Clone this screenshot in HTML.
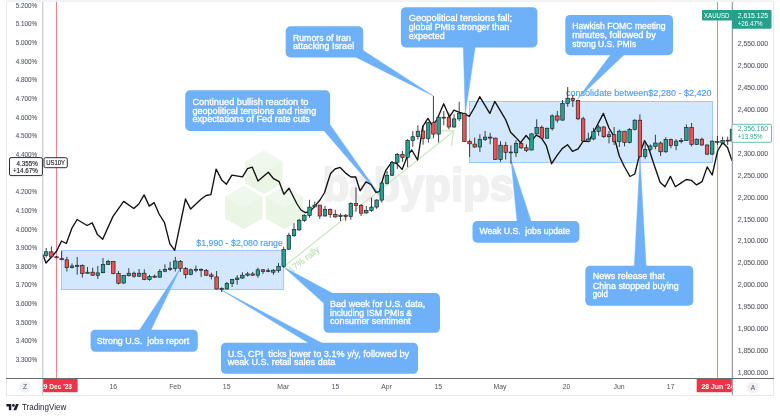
<!DOCTYPE html>
<html lang="en"><head><meta charset="utf-8"><title>XAUUSD vs US10Y - TradingView</title>
<style>html,body{margin:0;padding:0;background:#fff}svg{display:block}text{font-family:"Liberation Sans",Arial,sans-serif}</style></head><body>
<svg width="780" height="418" viewBox="0 0 780 418">
<rect width="780" height="418" fill="#fff"/>
<g fill="none" stroke="#e6e8ed" stroke-width="1">
<path d="M6.5 1H773.5V395.5H6.5Z"/>
</g>
<g opacity="1">
<polygon points="263.8,150.7 282.5,161.5 282.5,183.1 263.8,193.9 245.1,183.1 245.1,161.5" fill="#eaf5e6"/>
<polygon points="263.8,150.7 282.5,161.5 263.8,172.3 245.1,161.5" fill="#eff8ec"/>
<polygon points="243.7,186.0 262.4,196.8 262.4,218.4 243.7,229.2 225.0,218.4 225.0,196.8" fill="#eaf5e6"/>
<polygon points="243.7,186.0 262.4,196.8 243.7,207.6 225.0,196.8" fill="#eff8ec"/>
<polygon points="284.4,186.0 303.1,196.8 303.1,218.4 284.4,229.2 265.7,218.4 265.7,196.8" fill="#eaf5e6"/>
<polygon points="284.4,186.0 303.1,196.8 284.4,207.6 265.7,196.8" fill="#eff8ec"/>
<text x="322.5" y="201" font-size="46.5" font-weight="700" fill="#f0f0f0" stroke="#f0f0f0" stroke-width="2.2" stroke-linejoin="round" textLength="191.5" lengthAdjust="spacingAndGlyphs">babypips</text>
</g>
<rect x="61.5" y="250.5" width="222" height="39" fill="#d3e8fd" stroke="#8cc0f5" stroke-width="0.8"/>
<rect x="469.5" y="101.5" width="243" height="61" fill="#d3e8fd" stroke="#8cc0f5" stroke-width="0.8"/>
<path d="M56.5 2V378M717.5 2V378" stroke="#f0828c" stroke-width="1" fill="none"/>
<g stroke="#cbe9c2" stroke-width="1.3" fill="none" stroke-linecap="round">
<path d="M284 266.6L453.7 131.2"/>
<path d="M442 130.5L453.7 131.2L451.5 145.5"/>
</g>
<text transform="translate(291.6,273.4) rotate(-38.6)" font-size="9.4" fill="#c2e5b8" stroke="#c2e5b8" stroke-width="0.2" textLength="36.5" lengthAdjust="spacingAndGlyphs">17% rally</text>
<text x="196.3" y="245.8" font-size="9.6" fill="#489df5" stroke="#489df5" stroke-width="0.15" textLength="86.5" lengthAdjust="spacingAndGlyphs">$1,990 - $2,080 range</text>
<text x="566" y="96" font-size="9.6" fill="#489df5" stroke="#489df5" stroke-width="0.15" textLength="145.6" lengthAdjust="spacingAndGlyphs">consolidate between$2,280 - $2,420</text>
<g>
<polygon points="330.2,125.0 324.2,131.0 379.8,195.5" fill="#6eb1f8" stroke="#6eb1f8" stroke-width="0.5" stroke-linejoin="round"/>
<rect x="185.2" y="90.3" width="144.9" height="40.7" rx="4.8" fill="#6eb1f8"/>
<text x="192.4" y="104.7" font-size="9.0" fill="#fff" stroke="#fff" stroke-width="0.3" textLength="116.0" lengthAdjust="spacingAndGlyphs">Continued bullish reaction to</text>
<text x="192.4" y="113.6" font-size="9.0" fill="#fff" stroke="#fff" stroke-width="0.3" textLength="123.8" lengthAdjust="spacingAndGlyphs">geopolitical tensions and rising</text>
<text x="192.4" y="122.3" font-size="9.0" fill="#fff" stroke="#fff" stroke-width="0.3" textLength="117.5" lengthAdjust="spacingAndGlyphs">expectations of Fed rate cuts</text>
</g>
<g>
<polygon points="363.2,50.5 356.5,57.5 433.4,96.0" fill="#6eb1f8" stroke="#6eb1f8" stroke-width="0.5" stroke-linejoin="round"/>
<rect x="285.7" y="26.3" width="77.5" height="31.2" rx="4.8" fill="#6eb1f8"/>
<text x="292.9" y="40.5" font-size="9.0" fill="#fff" stroke="#fff" stroke-width="0.3" textLength="58.0" lengthAdjust="spacingAndGlyphs">Rumors of Iran</text>
<text x="292.9" y="49.1" font-size="9.0" fill="#fff" stroke="#fff" stroke-width="0.3" textLength="61.4" lengthAdjust="spacingAndGlyphs">attacking Israel</text>
</g>
<g>
<polygon points="463.3,46.0 475.3,46.0 465.3,113.5" fill="#6eb1f8" stroke="#6eb1f8" stroke-width="0.5" stroke-linejoin="round"/>
<rect x="400.9" y="7.2" width="136.5" height="40.2" rx="4.8" fill="#6eb1f8"/>
<text x="408.7" y="21.2" font-size="9.0" fill="#fff" stroke="#fff" stroke-width="0.3" textLength="103.4" lengthAdjust="spacingAndGlyphs">Geopolitical tensions fall;</text>
<text x="408.7" y="30.4" font-size="9.0" fill="#fff" stroke="#fff" stroke-width="0.3" textLength="100.6" lengthAdjust="spacingAndGlyphs">global PMIs stronger than</text>
<text x="408.7" y="39.0" font-size="9.0" fill="#fff" stroke="#fff" stroke-width="0.3" textLength="36.0" lengthAdjust="spacingAndGlyphs">expected</text>
</g>
<g>
<polygon points="611.3,54.0 624.8,54.0 577.4,99.0" fill="#6eb1f8" stroke="#6eb1f8" stroke-width="0.5" stroke-linejoin="round"/>
<rect x="565.3" y="14.9" width="107.7" height="40.3" rx="4.8" fill="#6eb1f8"/>
<text x="572.2" y="29.0" font-size="9.0" fill="#fff" stroke="#fff" stroke-width="0.3" textLength="93.4" lengthAdjust="spacingAndGlyphs">Hawkish FOMC meeting</text>
<text x="572.2" y="38.1" font-size="9.0" fill="#fff" stroke="#fff" stroke-width="0.3" textLength="83.6" lengthAdjust="spacingAndGlyphs">minutes, followed by</text>
<text x="572.2" y="46.8" font-size="9.0" fill="#fff" stroke="#fff" stroke-width="0.3" textLength="64.0" lengthAdjust="spacingAndGlyphs">strong U.S. PMIs</text>
</g>
<g>
<polygon points="138.9,331.0 150.4,331.0 180.3,268.3" fill="#6eb1f8" stroke="#6eb1f8" stroke-width="0.5" stroke-linejoin="round"/>
<rect x="90.6" y="329.7" width="107.2" height="22.1" rx="4.8" fill="#6eb1f8"/>
<text x="96.7" y="344.0" font-size="9.0" fill="#fff" stroke="#fff" stroke-width="0.3" textLength="92.5" lengthAdjust="spacingAndGlyphs">Strong U.S.&#160; jobs report</text>
</g>
<g>
<polygon points="310.3,344.0 323.6,344.0 221.8,290.3" fill="#6eb1f8" stroke="#6eb1f8" stroke-width="0.5" stroke-linejoin="round"/>
<rect x="220.9" y="342.8" width="197.1" height="31.0" rx="4.8" fill="#6eb1f8"/>
<text x="227.7" y="356.8" font-size="9.0" fill="#fff" stroke="#fff" stroke-width="0.3" textLength="181.4" lengthAdjust="spacingAndGlyphs">U.S. CPI&#160; ticks lower to 3.1% y/y, followed by</text>
<text x="227.7" y="365.1" font-size="9.0" fill="#fff" stroke="#fff" stroke-width="0.3" textLength="107.7" lengthAdjust="spacingAndGlyphs">weak U.S. retail sales data</text>
</g>
<g>
<polygon points="323.6,303.0 332.0,293.0 284.0,267.3" fill="#6eb1f8" stroke="#6eb1f8" stroke-width="0.5" stroke-linejoin="round"/>
<rect x="323.6" y="293.0" width="116.4" height="39.8" rx="4.8" fill="#6eb1f8"/>
<text x="330.1" y="306.7" font-size="9.0" fill="#fff" stroke="#fff" stroke-width="0.3" textLength="95.2" lengthAdjust="spacingAndGlyphs">Bad week for U.S. data,</text>
<text x="330.1" y="315.5" font-size="9.0" fill="#fff" stroke="#fff" stroke-width="0.3" textLength="82.0" lengthAdjust="spacingAndGlyphs">including ISM PMIs &amp;</text>
<text x="330.1" y="324.4" font-size="9.0" fill="#fff" stroke="#fff" stroke-width="0.3" textLength="80.5" lengthAdjust="spacingAndGlyphs">consumer sentiment</text>
</g>
<g>
<polygon points="517.2,222.5 531.5,222.5 511.1,160.2" fill="#6eb1f8" stroke="#6eb1f8" stroke-width="0.5" stroke-linejoin="round"/>
<rect x="472.5" y="221.1" width="106.9" height="21.6" rx="4.8" fill="#6eb1f8"/>
<text x="479.4" y="234.4" font-size="9.0" fill="#fff" stroke="#fff" stroke-width="0.3" textLength="90.7" lengthAdjust="spacingAndGlyphs">Weak U.S.&#160; jobs update</text>
</g>
<g>
<polygon points="634.3,267.0 646.1,267.0 640.0,158.0" fill="#6eb1f8" stroke="#6eb1f8" stroke-width="0.5" stroke-linejoin="round"/>
<rect x="585.3" y="265.7" width="108.0" height="40.0" rx="4.8" fill="#6eb1f8"/>
<text x="592.8" y="279.1" font-size="9.0" fill="#fff" stroke="#fff" stroke-width="0.3" textLength="72.0" lengthAdjust="spacingAndGlyphs">News release that</text>
<text x="592.8" y="288.5" font-size="9.0" fill="#fff" stroke="#fff" stroke-width="0.3" textLength="85.8" lengthAdjust="spacingAndGlyphs">China stopped buying</text>
<text x="592.8" y="297.4" font-size="9.0" fill="#fff" stroke="#fff" stroke-width="0.3" textLength="15.0" lengthAdjust="spacingAndGlyphs">gold</text>
</g>
<polyline points="42.9,254.7 46,263 51.5,257 56.7,251 61.5,241 66.3,243.5 71.8,228.4 77.1,219.5 87.1,225.5 92.2,222.9 97.4,234.4 102.7,239.2 113,216.4 123.7,201.4 133.8,208.5 138.8,204 144.1,194.9 149.3,206.1 154.1,202.6 159.1,214 164.4,222.4 169.9,243.9 174.7,250.4 185.5,199 190.6,209.1 201.3,199 206.1,195.5 210.9,194.7 216.1,169.1 221.7,179.9 226.4,184.2 231.9,175.1 242.5,176.8 247.5,168.7 252.3,167.2 258,181.1 268.3,172.2 273.6,178.7 279.1,181.6 283.9,194.3 289.1,188.3 293,196 297,204 301,210 305.4,212.7 310,211.5 313.8,207.4 320,200 324.6,192.5 327.5,183 330.6,173.4 335,169 340.1,167.4 346.1,173.4 350.9,177 355.7,177 360.1,190.9 365.9,181.9 370.9,184.5 375.9,192.4 379.5,191.7 381.7,183 384,175.2 386,170.1 391.7,162.2 396.8,163.6 402.1,169.4 407.5,155.7 411.8,150 417.6,160 422.7,126.7 427.9,118.4 432.2,125.5 437,119.6 443.7,103.8 449.5,116.9 454,110.2 458.8,112.2 464.6,113.9 469.2,116.4 474.2,108 479.7,96.7 489.8,113.4 494.8,101.4 505.5,119.3 510.6,132.2 515.3,136.9 520.6,142.7 526.1,135.5 531.2,141.6 536.2,135.2 541.2,137.7 546.2,145.3 551.6,163.7 557.1,155.3 562.2,148.6 567.5,144.7 572.5,151.4 578.1,148.9 583.3,141 588.6,141.6 593.3,132.8 603.4,113.4 609,128 614.1,136.7 619.3,156 624.3,166.5 630,176.5 634.8,174 640,153 644.5,140.7 648.3,147 653.5,163 660.1,182.2 665,186.7 670.4,176.4 675.4,186.7 680.8,183.1 686.2,179.5 691.6,180.4 696.6,184.9 702,181.7 707.2,166.9 712.2,175 717.6,151 722.6,142.5 727.5,147.5 732,160.6" fill="none" stroke="#111" stroke-width="1.35" stroke-linejoin="round" stroke-linecap="round"/>
<g stroke="#1d1d22" stroke-width="0.65">
<path d="M46.2 248.0V257.6" stroke-width="0.85"/>
<rect x="44.45" y="251.8" width="3.50" height="3.6" fill="#26a392"/>
<path d="M51.4 246.4V257.6" stroke-width="0.85"/>
<rect x="49.61" y="251.8" width="3.50" height="5.0" fill="#ee5350"/>
<path d="M56.5 256.0V258.2" stroke-width="0.85"/>
<rect x="54.78" y="256.8" width="3.50" height="1.0" fill="#ee5350"/>
<path d="M61.7 251.0V260.0" stroke-width="0.85"/>
<rect x="59.94" y="258.5" width="3.50" height="1.3" fill="#ee5350"/>
<path d="M66.9 256.8V271.5" stroke-width="0.85"/>
<rect x="65.10" y="259.8" width="3.50" height="7.9" fill="#ee5350"/>
<path d="M72.0 263.5V268.5" stroke-width="0.85"/>
<rect x="70.27" y="266.0" width="3.50" height="1.5" fill="#26a392"/>
<path d="M77.2 257.0V274.7" stroke-width="0.85"/>
<rect x="75.43" y="265.3" width="3.50" height="1.0" fill="#26a392"/>
<path d="M82.3 264.3V277.7" stroke-width="0.85"/>
<rect x="80.59" y="265.5" width="3.50" height="8.0" fill="#ee5350"/>
<path d="M87.5 267.0V273.5" stroke-width="0.85"/>
<rect x="85.75" y="272.2" width="3.50" height="1.0" fill="#26a392"/>
<path d="M92.7 267.7V276.0" stroke-width="0.85"/>
<rect x="90.92" y="272.2" width="3.50" height="3.0" fill="#ee5350"/>
<path d="M97.8 266.0V279.0" stroke-width="0.85"/>
<rect x="96.08" y="272.9" width="3.50" height="2.6" fill="#26a392"/>
<path d="M103.0 258.0V273.2" stroke-width="0.85"/>
<rect x="101.24" y="264.5" width="3.50" height="8.2" fill="#26a392"/>
<path d="M108.2 259.8V264.8" stroke-width="0.85"/>
<rect x="106.41" y="261.3" width="3.50" height="3.2" fill="#26a392"/>
<path d="M113.3 261.0V274.4" stroke-width="0.85"/>
<rect x="111.57" y="261.3" width="3.50" height="12.2" fill="#ee5350"/>
<path d="M118.5 271.0V284.4" stroke-width="0.85"/>
<rect x="116.73" y="273.5" width="3.50" height="9.7" fill="#ee5350"/>
<path d="M123.6 274.9V284.0" stroke-width="0.85"/>
<rect x="121.90" y="275.5" width="3.50" height="7.5" fill="#26a392"/>
<path d="M128.8 268.2V276.4" stroke-width="0.85"/>
<rect x="127.06" y="273.2" width="3.50" height="2.5" fill="#26a392"/>
<path d="M134.0 271.5V277.7" stroke-width="0.85"/>
<rect x="132.22" y="273.2" width="3.50" height="3.0" fill="#ee5350"/>
<path d="M139.1 269.0V276.9" stroke-width="0.85"/>
<rect x="137.38" y="273.2" width="3.50" height="3.0" fill="#26a392"/>
<path d="M144.3 269.3V280.2" stroke-width="0.85"/>
<rect x="142.55" y="273.2" width="3.50" height="6.2" fill="#ee5350"/>
<path d="M149.5 274.9V280.7" stroke-width="0.85"/>
<rect x="147.71" y="276.5" width="3.50" height="3.1" fill="#26a392"/>
<path d="M154.6 274.4V277.7" stroke-width="0.85"/>
<rect x="152.87" y="276.2" width="3.50" height="1.0" fill="#ee5350"/>
<path d="M159.8 269.0V277.7" stroke-width="0.85"/>
<rect x="158.04" y="271.3" width="3.50" height="5.9" fill="#26a392"/>
<path d="M164.9 264.3V272.2" stroke-width="0.85"/>
<rect x="163.20" y="269.3" width="3.50" height="1.9" fill="#26a392"/>
<path d="M170.1 261.8V271.0" stroke-width="0.85"/>
<rect x="168.36" y="268.2" width="3.50" height="1.3" fill="#26a392"/>
<path d="M175.3 256.8V271.5" stroke-width="0.85"/>
<rect x="173.53" y="261.0" width="3.50" height="7.5" fill="#26a392"/>
<path d="M180.4 260.0V272.0" stroke-width="0.85"/>
<rect x="178.69" y="261.3" width="3.50" height="7.2" fill="#ee5350"/>
<path d="M185.6 267.0V278.5" stroke-width="0.85"/>
<rect x="183.85" y="268.5" width="3.50" height="6.2" fill="#ee5350"/>
<path d="M190.8 268.5V275.2" stroke-width="0.85"/>
<rect x="189.01" y="269.8" width="3.50" height="4.7" fill="#26a392"/>
<path d="M195.9 265.6V272.2" stroke-width="0.85"/>
<rect x="194.18" y="269.3" width="3.50" height="0.9" fill="#26a392"/>
<path d="M201.1 268.5V276.9" stroke-width="0.85"/>
<rect x="199.34" y="269.3" width="3.50" height="0.9" fill="#26a392"/>
<path d="M206.3 269.0V276.0" stroke-width="0.85"/>
<rect x="204.50" y="270.5" width="3.50" height="4.7" fill="#ee5350"/>
<path d="M211.4 272.7V279.4" stroke-width="0.85"/>
<rect x="209.67" y="274.9" width="3.50" height="1.6" fill="#ee5350"/>
<path d="M216.6 271.0V289.4" stroke-width="0.85"/>
<rect x="214.83" y="276.9" width="3.50" height="12.1" fill="#ee5350"/>
<path d="M221.7 287.3V292.0" stroke-width="0.85"/>
<rect x="219.99" y="288.6" width="3.50" height="0.9" fill="#26a392"/>
<path d="M226.9 281.9V289.4" stroke-width="0.85"/>
<rect x="225.16" y="283.6" width="3.50" height="5.4" fill="#26a392"/>
<path d="M232.1 278.9V287.0" stroke-width="0.85"/>
<rect x="230.32" y="279.4" width="3.50" height="4.2" fill="#26a392"/>
<path d="M237.2 275.2V284.7" stroke-width="0.85"/>
<rect x="235.48" y="278.0" width="3.50" height="1.6" fill="#26a392"/>
<path d="M242.4 272.2V278.9" stroke-width="0.85"/>
<rect x="240.64" y="275.2" width="3.50" height="2.8" fill="#26a392"/>
<path d="M247.6 271.9V276.5" stroke-width="0.85"/>
<rect x="245.81" y="273.9" width="3.50" height="1.3" fill="#26a392"/>
<path d="M252.7 271.9V276.0" stroke-width="0.85"/>
<rect x="250.97" y="273.9" width="3.50" height="1.3" fill="#ee5350"/>
<path d="M257.9 267.7V277.7" stroke-width="0.85"/>
<rect x="256.13" y="269.8" width="3.50" height="5.4" fill="#26a392"/>
<path d="M263.0 269.0V273.9" stroke-width="0.85"/>
<rect x="261.30" y="269.8" width="3.50" height="1.7" fill="#ee5350"/>
<path d="M268.2 268.2V272.2" stroke-width="0.85"/>
<rect x="266.46" y="270.7" width="3.50" height="0.9" fill="#26a392"/>
<path d="M273.4 269.0V274.7" stroke-width="0.85"/>
<rect x="271.62" y="270.2" width="3.50" height="2.0" fill="#26a392"/>
<path d="M278.5 263.0V272.7" stroke-width="0.85"/>
<rect x="276.79" y="266.3" width="3.50" height="4.4" fill="#26a392"/>
<path d="M283.7 246.7V267.7" stroke-width="0.85"/>
<rect x="281.95" y="249.6" width="3.50" height="16.7" fill="#26a392"/>
<path d="M288.9 232.8V250.0" stroke-width="0.85"/>
<rect x="287.11" y="235.3" width="3.50" height="13.9" fill="#26a392"/>
<path d="M294.0 223.2V236.6" stroke-width="0.85"/>
<rect x="292.27" y="229.4" width="3.50" height="6.4" fill="#26a392"/>
<path d="M299.2 218.9V230.8" stroke-width="0.85"/>
<rect x="297.44" y="220.2" width="3.50" height="9.7" fill="#26a392"/>
<path d="M304.4 214.3V221.9" stroke-width="0.85"/>
<rect x="302.60" y="215.2" width="3.50" height="5.3" fill="#26a392"/>
<path d="M309.5 199.8V217.7" stroke-width="0.85"/>
<rect x="307.76" y="207.1" width="3.50" height="8.4" fill="#26a392"/>
<path d="M314.7 201.8V207.6" stroke-width="0.85"/>
<rect x="312.93" y="205.1" width="3.50" height="1.7" fill="#26a392"/>
<path d="M319.8 204.8V218.9" stroke-width="0.85"/>
<rect x="318.09" y="205.1" width="3.50" height="10.9" fill="#ee5350"/>
<path d="M325.0 206.0V216.5" stroke-width="0.85"/>
<rect x="323.25" y="209.3" width="3.50" height="6.7" fill="#26a392"/>
<path d="M330.2 208.5V217.7" stroke-width="0.85"/>
<rect x="328.42" y="209.3" width="3.50" height="5.0" fill="#ee5350"/>
<path d="M335.3 209.8V217.7" stroke-width="0.85"/>
<rect x="333.58" y="214.3" width="3.50" height="2.6" fill="#ee5350"/>
<path d="M340.5 213.5V221.0" stroke-width="0.85"/>
<rect x="338.74" y="215.2" width="3.50" height="1.3" fill="#26a392"/>
<path d="M345.7 214.0V220.7" stroke-width="0.85"/>
<rect x="343.90" y="215.2" width="3.50" height="1.2" fill="#ee5350"/>
<path d="M350.8 202.3V219.7" stroke-width="0.85"/>
<rect x="349.07" y="203.5" width="3.50" height="13.0" fill="#26a392"/>
<path d="M356.0 187.5V211.8" stroke-width="0.85"/>
<rect x="354.23" y="203.5" width="3.50" height="2.1" fill="#ee5350"/>
<path d="M361.1 204.0V216.0" stroke-width="0.85"/>
<rect x="359.39" y="205.6" width="3.50" height="7.6" fill="#ee5350"/>
<path d="M366.3 206.0V213.5" stroke-width="0.85"/>
<rect x="364.56" y="210.5" width="3.50" height="2.5" fill="#26a392"/>
<path d="M371.5 197.6V211.8" stroke-width="0.85"/>
<rect x="369.72" y="207.1" width="3.50" height="3.4" fill="#26a392"/>
<path d="M376.6 199.3V208.8" stroke-width="0.85"/>
<rect x="374.88" y="200.1" width="3.50" height="7.0" fill="#26a392"/>
<path d="M381.8 181.7V202.6" stroke-width="0.85"/>
<rect x="380.05" y="183.0" width="3.50" height="17.1" fill="#26a392"/>
<path d="M387.0 171.0V184.4" stroke-width="0.85"/>
<rect x="385.21" y="175.2" width="3.50" height="8.1" fill="#26a392"/>
<path d="M392.1 161.0V176.0" stroke-width="0.85"/>
<rect x="390.37" y="162.3" width="3.50" height="12.9" fill="#26a392"/>
<path d="M397.3 153.1V168.9" stroke-width="0.85"/>
<rect x="395.53" y="154.3" width="3.50" height="8.0" fill="#26a392"/>
<path d="M402.4 151.0V161.8" stroke-width="0.85"/>
<rect x="400.70" y="154.3" width="3.50" height="3.0" fill="#ee5350"/>
<path d="M407.6 139.2V167.2" stroke-width="0.85"/>
<rect x="405.86" y="140.4" width="3.50" height="16.9" fill="#26a392"/>
<path d="M412.8 131.1V146.8" stroke-width="0.85"/>
<rect x="411.02" y="136.7" width="3.50" height="3.8" fill="#26a392"/>
<path d="M417.9 125.3V139.5" stroke-width="0.85"/>
<rect x="416.19" y="131.2" width="3.50" height="5.4" fill="#26a392"/>
<path d="M423.1 125.3V144.7" stroke-width="0.85"/>
<rect x="421.35" y="131.0" width="3.50" height="7.5" fill="#ee5350"/>
<path d="M428.3 121.9V142.6" stroke-width="0.85"/>
<rect x="426.51" y="122.7" width="3.50" height="15.8" fill="#26a392"/>
<path d="M433.4 96.0V138.3" stroke-width="0.85"/>
<rect x="431.68" y="122.7" width="3.50" height="11.4" fill="#ee5350"/>
<path d="M438.6 116.9V142.5" stroke-width="0.85"/>
<rect x="436.84" y="117.2" width="3.50" height="16.9" fill="#26a392"/>
<path d="M443.8 111.0V125.3" stroke-width="0.85"/>
<rect x="442.00" y="117.2" width="3.50" height="0.9" fill="#26a392"/>
<path d="M448.9 112.7V129.4" stroke-width="0.85"/>
<rect x="447.16" y="117.2" width="3.50" height="9.8" fill="#ee5350"/>
<path d="M454.1 114.4V127.8" stroke-width="0.85"/>
<rect x="452.33" y="118.9" width="3.50" height="8.1" fill="#26a392"/>
<path d="M459.2 101.8V121.0" stroke-width="0.85"/>
<rect x="457.49" y="113.5" width="3.50" height="5.4" fill="#26a392"/>
<path d="M464.4 112.7V142.0" stroke-width="0.85"/>
<rect x="462.65" y="113.5" width="3.50" height="27.9" fill="#ee5350"/>
<path d="M469.6 139.7V157.0" stroke-width="0.85"/>
<rect x="467.82" y="141.5" width="3.50" height="2.3" fill="#ee5350"/>
<path d="M474.7 137.6V147.8" stroke-width="0.85"/>
<rect x="472.98" y="144.1" width="3.50" height="2.9" fill="#ee5350"/>
<path d="M479.9 134.3V152.0" stroke-width="0.85"/>
<rect x="478.14" y="139.3" width="3.50" height="7.7" fill="#26a392"/>
<path d="M485.1 131.0V141.0" stroke-width="0.85"/>
<rect x="483.31" y="137.1" width="3.50" height="2.4" fill="#26a392"/>
<path d="M490.2 132.9V144.3" stroke-width="0.85"/>
<rect x="488.47" y="137.1" width="3.50" height="1.0" fill="#ee5350"/>
<path d="M495.4 137.7V160.0" stroke-width="0.85"/>
<rect x="493.63" y="138.1" width="3.50" height="21.5" fill="#ee5350"/>
<path d="M500.5 141.3V161.7" stroke-width="0.85"/>
<rect x="498.79" y="145.2" width="3.50" height="14.4" fill="#26a392"/>
<path d="M505.7 141.9V159.5" stroke-width="0.85"/>
<rect x="503.96" y="145.3" width="3.50" height="7.0" fill="#ee5350"/>
<path d="M510.9 145.3V163.7" stroke-width="0.85"/>
<rect x="509.12" y="152.0" width="3.50" height="0.9" fill="#26a392"/>
<path d="M516.0 140.2V157.0" stroke-width="0.85"/>
<rect x="514.28" y="143.6" width="3.50" height="9.2" fill="#26a392"/>
<path d="M521.2 141.9V149.0" stroke-width="0.85"/>
<rect x="519.45" y="143.6" width="3.50" height="4.2" fill="#ee5350"/>
<path d="M526.4 144.4V152.0" stroke-width="0.85"/>
<rect x="524.61" y="147.8" width="3.50" height="2.5" fill="#ee5350"/>
<path d="M531.5 133.2V150.3" stroke-width="0.85"/>
<rect x="529.77" y="133.9" width="3.50" height="16.1" fill="#26a392"/>
<path d="M536.7 119.3V134.4" stroke-width="0.85"/>
<rect x="534.94" y="127.3" width="3.50" height="6.6" fill="#26a392"/>
<path d="M541.8 125.5V138.9" stroke-width="0.85"/>
<rect x="540.10" y="127.3" width="3.50" height="10.9" fill="#ee5350"/>
<path d="M547.0 127.7V138.6" stroke-width="0.85"/>
<rect x="545.26" y="128.2" width="3.50" height="10.0" fill="#26a392"/>
<path d="M552.2 114.3V130.5" stroke-width="0.85"/>
<rect x="550.42" y="115.9" width="3.50" height="12.6" fill="#26a392"/>
<path d="M557.3 110.9V122.6" stroke-width="0.85"/>
<rect x="555.59" y="115.9" width="3.50" height="4.2" fill="#ee5350"/>
<path d="M562.5 100.0V120.6" stroke-width="0.85"/>
<rect x="560.75" y="103.4" width="3.50" height="16.7" fill="#26a392"/>
<path d="M567.7 87.0V106.7" stroke-width="0.85"/>
<rect x="565.91" y="98.2" width="3.50" height="5.1" fill="#26a392"/>
<path d="M572.8 95.0V107.0" stroke-width="0.85"/>
<rect x="571.08" y="98.4" width="3.50" height="2.2" fill="#ee5350"/>
<path d="M578.0 99.7V120.1" stroke-width="0.85"/>
<rect x="576.24" y="100.4" width="3.50" height="18.4" fill="#ee5350"/>
<path d="M583.2 116.8V141.6" stroke-width="0.85"/>
<rect x="581.40" y="118.8" width="3.50" height="22.2" fill="#ee5350"/>
<path d="M588.3 132.7V141.9" stroke-width="0.85"/>
<rect x="586.57" y="139.0" width="3.50" height="2.3" fill="#26a392"/>
<path d="M593.5 127.8V140.2" stroke-width="0.85"/>
<rect x="591.73" y="131.5" width="3.50" height="7.5" fill="#26a392"/>
<path d="M598.6 125.0V135.7" stroke-width="0.85"/>
<rect x="596.89" y="127.0" width="3.50" height="4.4" fill="#26a392"/>
<path d="M603.8 126.0V138.0" stroke-width="0.85"/>
<rect x="602.05" y="127.0" width="3.50" height="9.7" fill="#ee5350"/>
<path d="M609.0 130.9V143.4" stroke-width="0.85"/>
<rect x="607.22" y="134.7" width="3.50" height="2.0" fill="#26a392"/>
<path d="M614.1 127.0V145.0" stroke-width="0.85"/>
<rect x="612.38" y="134.7" width="3.50" height="6.8" fill="#ee5350"/>
<path d="M619.3 129.5V147.0" stroke-width="0.85"/>
<rect x="617.54" y="131.2" width="3.50" height="10.3" fill="#26a392"/>
<path d="M624.5 130.9V146.4" stroke-width="0.85"/>
<rect x="622.71" y="131.2" width="3.50" height="11.3" fill="#ee5350"/>
<path d="M629.6 128.0V143.4" stroke-width="0.85"/>
<rect x="627.87" y="129.5" width="3.50" height="13.0" fill="#26a392"/>
<path d="M634.8 119.2V130.3" stroke-width="0.85"/>
<rect x="633.03" y="120.2" width="3.50" height="9.3" fill="#26a392"/>
<path d="M639.9 114.4V158.0" stroke-width="0.85"/>
<rect x="638.20" y="120.2" width="3.50" height="36.4" fill="#ee5350"/>
<path d="M645.1 143.0V159.0" stroke-width="0.85"/>
<rect x="643.36" y="149.3" width="3.50" height="7.3" fill="#26a392"/>
<path d="M650.3 144.4V151.2" stroke-width="0.85"/>
<rect x="648.52" y="146.0" width="3.50" height="3.3" fill="#26a392"/>
<path d="M655.4 134.7V149.3" stroke-width="0.85"/>
<rect x="653.68" y="143.0" width="3.50" height="3.4" fill="#26a392"/>
<path d="M660.6 141.5V156.0" stroke-width="0.85"/>
<rect x="658.85" y="143.0" width="3.50" height="8.8" fill="#ee5350"/>
<path d="M665.8 137.2V152.8" stroke-width="0.85"/>
<rect x="664.01" y="139.6" width="3.50" height="12.2" fill="#26a392"/>
<path d="M670.9 138.6V148.3" stroke-width="0.85"/>
<rect x="669.17" y="139.6" width="3.50" height="5.8" fill="#ee5350"/>
<path d="M676.1 139.2V150.2" stroke-width="0.85"/>
<rect x="674.34" y="141.1" width="3.50" height="4.3" fill="#26a392"/>
<path d="M681.2 138.0V143.4" stroke-width="0.85"/>
<rect x="679.50" y="140.5" width="3.50" height="1.0" fill="#26a392"/>
<path d="M686.4 124.5V141.0" stroke-width="0.85"/>
<rect x="684.66" y="127.6" width="3.50" height="12.9" fill="#26a392"/>
<path d="M691.6 123.0V146.4" stroke-width="0.85"/>
<rect x="689.83" y="127.6" width="3.50" height="16.8" fill="#ee5350"/>
<path d="M696.7 138.6V145.0" stroke-width="0.85"/>
<rect x="694.99" y="139.2" width="3.50" height="5.2" fill="#26a392"/>
<path d="M701.9 137.6V145.8" stroke-width="0.85"/>
<rect x="700.15" y="139.2" width="3.50" height="5.8" fill="#ee5350"/>
<path d="M707.1 144.4V155.1" stroke-width="0.85"/>
<rect x="705.31" y="145.0" width="3.50" height="9.1" fill="#ee5350"/>
<path d="M712.2 140.5V155.1" stroke-width="0.85"/>
<rect x="710.48" y="141.1" width="3.50" height="13.0" fill="#26a392"/>
<path d="M717.4 136.0V145.0" stroke-width="0.85"/>
<rect x="715.64" y="141.5" width="3.50" height="0.9" fill="#26a392"/>
<path d="M722.6 136.7V144.4" stroke-width="0.85"/>
<rect x="720.80" y="140.5" width="3.50" height="2.5" fill="#26a392"/>
<path d="M727.7 136.7V145.0" stroke-width="0.85"/>
<rect x="725.97" y="140.2" width="3.50" height="0.9" fill="#ee5350"/>
<rect x="730.20" y="129.2" width="1.80" height="11.8" fill="#26a392"/>
</g>
<path d="M42.7 2V395" stroke="#c3c5cd" stroke-width="1.1" fill="none"/>
<path d="M732.4 2V395" stroke="#9a9ca6" stroke-width="1.3" fill="none"/>
<path d="M6 378.5H774" stroke="#6a6d78" stroke-width="1" fill="none"/>
<g font-size="6.9" fill="#585b66" stroke="#585b66" stroke-width="0.1" text-anchor="end">
<text x="37" y="7.7" textLength="21.2" lengthAdjust="spacingAndGlyphs">5.200%</text>
<text x="37" y="26.3" textLength="21.2" lengthAdjust="spacingAndGlyphs">5.100%</text>
<text x="37" y="45.0" textLength="21.2" lengthAdjust="spacingAndGlyphs">5.000%</text>
<text x="37" y="63.6" textLength="21.2" lengthAdjust="spacingAndGlyphs">4.900%</text>
<text x="37" y="82.3" textLength="21.2" lengthAdjust="spacingAndGlyphs">4.800%</text>
<text x="37" y="101.0" textLength="21.2" lengthAdjust="spacingAndGlyphs">4.700%</text>
<text x="37" y="119.6" textLength="21.2" lengthAdjust="spacingAndGlyphs">4.600%</text>
<text x="37" y="138.2" textLength="21.2" lengthAdjust="spacingAndGlyphs">4.500%</text>
<text x="37" y="156.9" textLength="21.2" lengthAdjust="spacingAndGlyphs">4.400%</text>
<text x="37" y="194.2" textLength="21.2" lengthAdjust="spacingAndGlyphs">4.200%</text>
<text x="37" y="212.8" textLength="21.2" lengthAdjust="spacingAndGlyphs">4.100%</text>
<text x="37" y="231.5" textLength="21.2" lengthAdjust="spacingAndGlyphs">4.000%</text>
<text x="37" y="250.1" textLength="21.2" lengthAdjust="spacingAndGlyphs">3.900%</text>
<text x="37" y="268.8" textLength="21.2" lengthAdjust="spacingAndGlyphs">3.800%</text>
<text x="37" y="287.4" textLength="21.2" lengthAdjust="spacingAndGlyphs">3.700%</text>
<text x="37" y="306.1" textLength="21.2" lengthAdjust="spacingAndGlyphs">3.600%</text>
<text x="37" y="324.7" textLength="21.2" lengthAdjust="spacingAndGlyphs">3.500%</text>
<text x="37" y="343.4" textLength="21.2" lengthAdjust="spacingAndGlyphs">3.400%</text>
<text x="37" y="362.0" textLength="21.2" lengthAdjust="spacingAndGlyphs">3.300%</text>
</g>
<rect x="9.5" y="157.6" width="32.9" height="18" rx="1.5" fill="#fff" stroke="#2c2d33" stroke-width="1"/>
<g font-size="6.9" fill="#1e1f25" stroke="#1e1f25" stroke-width="0.15" text-anchor="end"><text x="37.7" y="165.7" textLength="21.2" lengthAdjust="spacingAndGlyphs">4.355%</text><text x="37.7" y="173.2" textLength="24.8" lengthAdjust="spacingAndGlyphs">+14.67%</text></g>
<rect x="44" y="157.7" width="23.3" height="10" rx="1.5" fill="#fff" stroke="#2c2d33" stroke-width="1"/>
<text x="46.2" y="165.3" font-size="6.9" fill="#1e1f25" stroke="#1e1f25" stroke-width="0.15" textLength="18.8" lengthAdjust="spacingAndGlyphs">US10Y</text>
<g font-size="6.9" fill="#585b66" stroke="#585b66" stroke-width="0.1">
<text x="737.7" y="46.1" textLength="30.5" lengthAdjust="spacingAndGlyphs">2,550.000</text>
<text x="737.7" y="68.0" textLength="30.5" lengthAdjust="spacingAndGlyphs">2,500.000</text>
<text x="737.7" y="89.9" textLength="30.5" lengthAdjust="spacingAndGlyphs">2,450.000</text>
<text x="737.7" y="111.9" textLength="30.5" lengthAdjust="spacingAndGlyphs">2,400.000</text>
<text x="737.7" y="155.7" textLength="30.5" lengthAdjust="spacingAndGlyphs">2,300.000</text>
<text x="737.7" y="177.6" textLength="30.5" lengthAdjust="spacingAndGlyphs">2,250.000</text>
<text x="737.7" y="199.5" textLength="30.5" lengthAdjust="spacingAndGlyphs">2,200.000</text>
<text x="737.7" y="221.5" textLength="30.5" lengthAdjust="spacingAndGlyphs">2,150.000</text>
<text x="737.7" y="243.4" textLength="30.5" lengthAdjust="spacingAndGlyphs">2,100.000</text>
<text x="737.7" y="265.3" textLength="30.5" lengthAdjust="spacingAndGlyphs">2,050.000</text>
<text x="737.7" y="287.2" textLength="30.5" lengthAdjust="spacingAndGlyphs">2,000.000</text>
<text x="737.7" y="309.1" textLength="30.5" lengthAdjust="spacingAndGlyphs">1,950.000</text>
<text x="737.7" y="331.1" textLength="30.5" lengthAdjust="spacingAndGlyphs">1,900.000</text>
<text x="737.7" y="353.0" textLength="30.5" lengthAdjust="spacingAndGlyphs">1,850.000</text>
<text x="737.7" y="374.9" textLength="30.5" lengthAdjust="spacingAndGlyphs">1,800.000</text>
</g>
<rect x="702" y="10" width="30" height="10.6" rx="1" fill="#26a08c"/>
<text x="704" y="17.9" font-size="6.9" fill="#fff" textLength="25.5" lengthAdjust="spacingAndGlyphs">XAUUSD</text>
<rect x="732" y="10" width="39.5" height="18.7" rx="1" fill="#26a08c"/>
<g font-size="6.9" fill="#fff"><text x="737.7" y="18.2" textLength="30.5" lengthAdjust="spacingAndGlyphs">2,615.125</text><text x="737.7" y="26.1" textLength="24.9" lengthAdjust="spacingAndGlyphs">+26.47%</text></g>
<rect x="732" y="124.3" width="39.5" height="18" rx="1.2" fill="#fff" stroke="#5bb5a6" stroke-width="0.9"/>
<g font-size="6.9" fill="#2aa594"><text x="737.7" y="131.2" textLength="30.5" lengthAdjust="spacingAndGlyphs">2,356.160</text><text x="737.7" y="139.3" textLength="24.9" lengthAdjust="spacingAndGlyphs">+13.95%</text></g>
<rect x="43.2" y="379" width="34.4" height="13.2" fill="#ee3348"/>
<rect x="696.7" y="379" width="35.1" height="13.2" fill="#ee3348"/>
<svg x="43.2" y="379" width="34.4" height="14" overflow="hidden"><text x="28.8" y="10.1" font-size="6.9" font-weight="700" fill="#fff" text-anchor="end" textLength="31.8" lengthAdjust="spacingAndGlyphs">29 Dec '23</text></svg>
<svg x="696.7" y="379" width="35.1" height="14" overflow="hidden"><text x="4.9" y="10.1" font-size="6.9" font-weight="700" fill="#fff" textLength="32.6" lengthAdjust="spacingAndGlyphs">28 Jun '24</text></svg>
<g font-size="6.9" fill="#50535e" text-anchor="middle">
<text x="113.3" y="389.3">16</text>
<text x="175.1" y="389.3">Feb</text>
<text x="226.7" y="389.3">15</text>
<text x="283.3" y="389.3">Mar</text>
<text x="335.4" y="389.3">15</text>
<text x="386.6" y="389.3">Apr</text>
<text x="438.3" y="389.3">15</text>
<text x="500.0" y="389.3">May</text>
<text x="566.5" y="389.3">20</text>
<text x="619.0" y="389.3">Jun</text>
<text x="670.7" y="389.3">17</text>
</g>
<circle cx="25" cy="387" r="5.8" fill="#f0f1f5"/><text x="25" y="389.4" font-size="6.6" fill="#50535e" text-anchor="middle">Z</text>
<circle cx="752.9" cy="387.4" r="5.8" fill="#f0f1f5"/><text x="752.9" y="389.8" font-size="6.6" fill="#50535e" text-anchor="middle">A</text>
<g transform="translate(6.4,402.6) scale(0.35)" fill="#1c1f2a"><path d="M14 22H7V11H0V4h14v18zM28 22h-8l7.5-18h8L28 22z"/><circle cx="20" cy="8" r="4"/></g>
<text x="22" y="410.3" font-size="8.7" fill="#1c1f2a" textLength="44.3" lengthAdjust="spacingAndGlyphs">TradingView</text>
</svg></body></html>
